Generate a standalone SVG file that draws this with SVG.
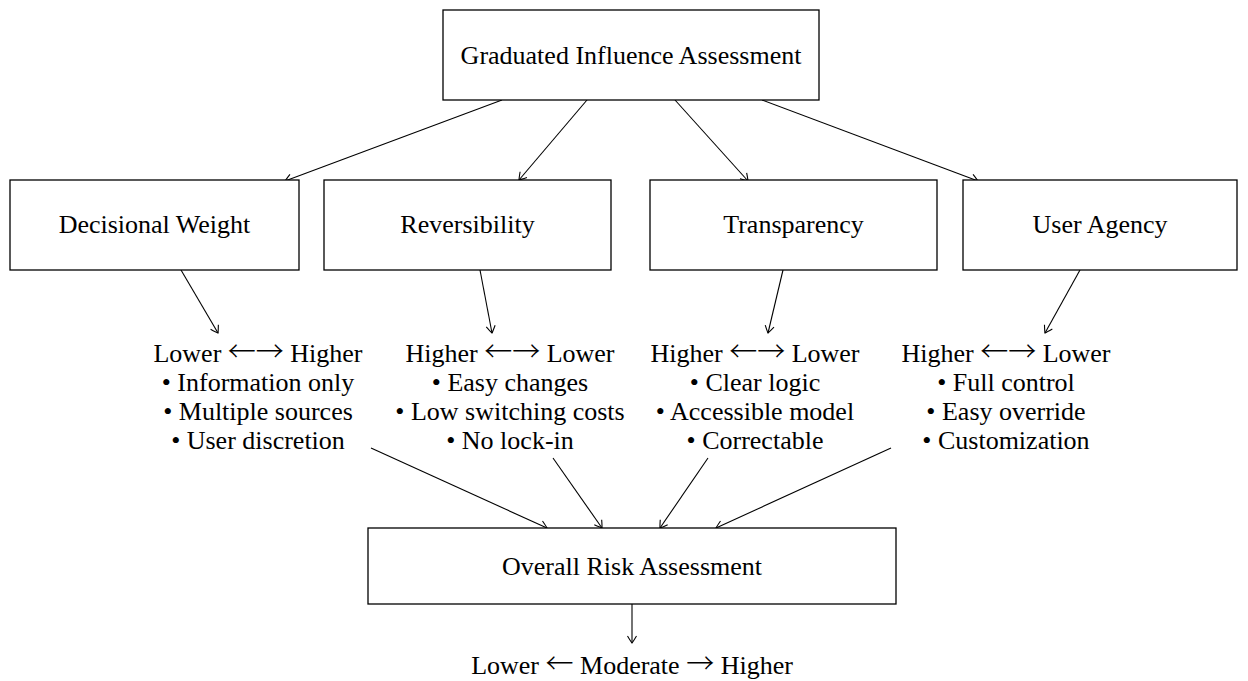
<svg xmlns="http://www.w3.org/2000/svg" width="1248" height="681" viewBox="0 0 1248 681">
<style>
.box{fill:#fff;stroke:#000;stroke-width:1.3}
.t{font-family:"Liberation Serif","Times New Roman",serif;font-size:26px;fill:#000;text-anchor:middle}
.ar{font-family:"Noto Sans CJK SC","DejaVu Sans",sans-serif;font-size:28px;font-weight:300}
.c{fill:none;stroke:#000;stroke-width:1.1;marker-end:url(#ah)}
</style>
<defs>
<marker id="ah" viewBox="-10 -6 12 12" refX="0" refY="0" markerWidth="12" markerHeight="12" markerUnits="userSpaceOnUse" orient="auto">
<path d="M-7,-4.5 Q-1.5,-1.2 0,0 Q-1.5,1.2 -7,4.5" fill="none" stroke="#000" stroke-width="1.1"/>
</marker>
</defs>
<rect width="1248" height="681" fill="#fff"/>
<g id="connectors">
<line class="c" x1="502" y1="100" x2="285" y2="181"/>
<line class="c" x1="587" y1="100" x2="519" y2="180"/>
<line class="c" x1="675" y1="100" x2="748" y2="181"/>
<line class="c" x1="762" y1="100" x2="978" y2="181"/>
<line class="c" x1="181" y1="270" x2="218" y2="333"/>
<line class="c" x1="480" y1="270" x2="492" y2="333"/>
<line class="c" x1="783" y1="270" x2="768" y2="333"/>
<line class="c" x1="1080" y1="270" x2="1045" y2="333"/>
<line class="c" x1="371" y1="448" x2="547" y2="528"/>
<line class="c" x1="553" y1="458" x2="602" y2="528"/>
<line class="c" x1="708" y1="458" x2="660" y2="528"/>
<line class="c" x1="891" y1="448" x2="716" y2="528"/>
<line class="c" x1="632" y1="604" x2="632" y2="643"/>
</g>
<g id="top">
<rect class="box" x="443" y="10" width="376" height="90"/>
<text class="t" x="631" y="64">Graduated Influence Assessment</text>
</g>
<g id="decisional">
<rect class="box" x="10" y="180" width="289" height="90"/>
<text class="t" x="154.5" y="233">Decisional Weight</text>
</g>
<g id="reversibility">
<rect class="box" x="324" y="180" width="287" height="90"/>
<text class="t" x="467.5" y="233">Reversibility</text>
</g>
<g id="transparency">
<rect class="box" x="650" y="180" width="287" height="90"/>
<text class="t" x="793.5" y="233">Transparency</text>
</g>
<g id="agency">
<rect class="box" x="963" y="180" width="274" height="90"/>
<text class="t" x="1100" y="233">User Agency</text>
</g>
<g id="dw-scale">
<text class="t" x="258" y="362">Lower <tspan class="ar">←→</tspan> Higher</text>
<text class="t" x="258" y="391">• Information only</text>
<text class="t" x="258" y="420">• Multiple sources</text>
<text class="t" x="258" y="449">• User discretion</text>
</g>
<g id="rev-scale">
<text class="t" x="510" y="362">Higher <tspan class="ar">←→</tspan> Lower</text>
<text class="t" x="510" y="391">• Easy changes</text>
<text class="t" x="510" y="420">• Low switching costs</text>
<text class="t" x="510" y="449">• No lock-in</text>
</g>
<g id="tr-scale">
<text class="t" x="755" y="362">Higher <tspan class="ar">←→</tspan> Lower</text>
<text class="t" x="755" y="391">• Clear logic</text>
<text class="t" x="755" y="420">• Accessible model</text>
<text class="t" x="755" y="449">• Correctable</text>
</g>
<g id="ua-scale">
<text class="t" x="1006" y="362">Higher <tspan class="ar">←→</tspan> Lower</text>
<text class="t" x="1006" y="391">• Full control</text>
<text class="t" x="1006" y="420">• Easy override</text>
<text class="t" x="1006" y="449">• Customization</text>
</g>
<g id="overall">
<rect class="box" x="368" y="528" width="528" height="76"/>
<text class="t" x="632" y="575">Overall Risk Assessment</text>
</g>
<g id="result">
<text class="t" x="632" y="674">Lower <tspan class="ar">←</tspan> Moderate <tspan class="ar">→</tspan> Higher</text>
</g>
</svg>
